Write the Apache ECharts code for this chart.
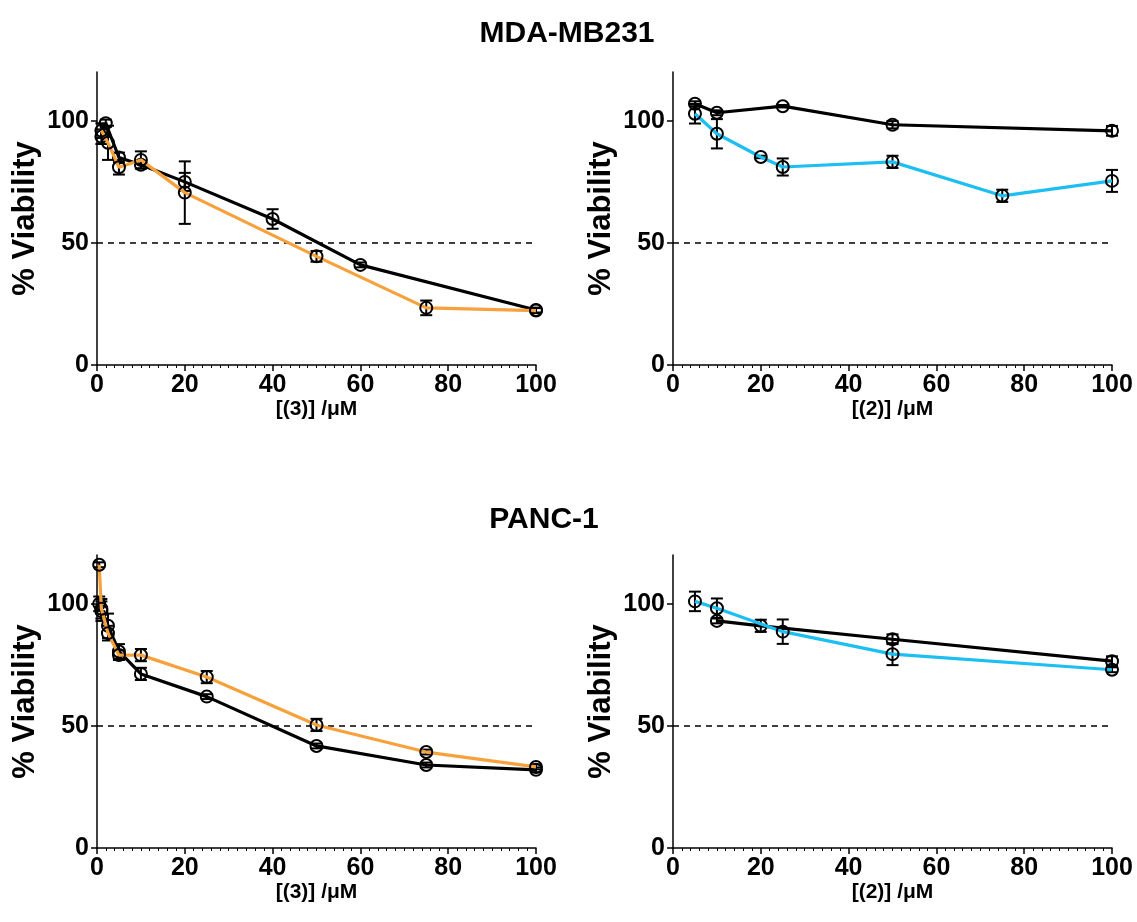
<!DOCTYPE html>
<html><head><meta charset="utf-8">
<script src="https://cdn.jsdelivr.net/npm/echarts@6/dist/echarts.min.js"></script>
<style>html,body{margin:0;padding:0;background:#fff}#c{width:1137px;height:922px}</style>
</head><body><div id="c"></div>
<script>
// ---- Data ----
const titles = ['MDA-MB231', 'PANC-1'];
const xNames = ['[(3)] /\u03bcM', '[(2)] /\u03bcM', '[(3)] /\u03bcM', '[(2)] /\u03bcM'];
const yName = '% Viability';
const yTicks = [0, 50, 100];
const xTicks = [0, 20, 40, 60, 80, 100];

// Top-left: MDA-MB231, compound (3)
const tlBlackX = [1, 2, 5, 10, 20, 40, 60, 100];
const tlBlackY = [93.5, 99, 85, 82, 75, 59.8, 41, 22.5];
const tlBlackE = [3, 1.5, 2, 1.5, 3.7, 4, 1, 1];
const tlOrangeX = [1, 2.5, 5, 10, 20, 50, 75, 100];
const tlOrangeY = [96, 91, 81, 84, 70.6, 44.5, 23.4, 22.3];
const tlOrangeE = [3, 7, 3, 3.5, 12.8, 2.2, 3, 1];

// Top-right: MDA-MB231, compound (2)
const trBlackX = [5, 10, 25, 50, 100];
const trBlackY = [107, 103.3, 106, 98.4, 95.9];
const trBlackE = [1, 1, 0.5, 1.5, 2];
const trBlueX = [5, 10, 20, 25, 50, 75, 100];
const trBlueY = [102.9, 94.7, 85.2, 81.1, 83.2, 69.3, 75.4];
const trBlueE = [4, 6, 0.5, 3.5, 2.5, 2.5, 4.5];

// Bottom-left: PANC-1, compound (3)
const blBlackX = [0.5, 1, 2.5, 5, 10, 25, 50, 75, 100];
const blBlackY = [100, 97, 91, 80.5, 71.3, 62, 41.8, 34, 32];
const blBlackE = [3, 4, 5, 3, 2.5, 1, 1, 1, 1];
const blOrangeX = [0.5, 1, 2.5, 5, 10, 25, 50, 75, 100];
const blOrangeY = [116, 98, 88, 79, 79, 70, 50.4, 39.3, 33.2];
const blOrangeE = [1, 4, 3, 2, 2.5, 2.5, 2.5, 1, 1];

// Bottom-right: PANC-1, compound (2)
const brBlackX = [10, 20, 50, 100];
const brBlackY = [93, 91, 85.5, 76.5];
const brBlackE = [1, 2.5, 2, 2];
const brBlueX = [5, 10, 25, 50, 100];
const brBlueY = [101, 98.2, 88.6, 79.4, 73];
const brBlueE = [4, 4, 5, 4.5, 1];

const BLACK = '#000000', ORANGE = '#F7A13C', BLUE = '#1DBFF2';
const FONT = 'Liberation Sans, Arial, sans-serif';

const panels = [
  {grid: {left: 97, top: 72, width: 439, height: 293}, s: [[tlBlackX, tlBlackY, tlBlackE, BLACK], [tlOrangeX, tlOrangeY, tlOrangeE, ORANGE]]},
  {grid: {left: 673, top: 72, width: 439, height: 293}, s: [[trBlackX, trBlackY, trBlackE, BLACK], [trBlueX, trBlueY, trBlueE, BLUE]]},
  {grid: {left: 97, top: 555, width: 439, height: 293}, s: [[blBlackX, blBlackY, blBlackE, BLACK], [blOrangeX, blOrangeY, blOrangeE, ORANGE]]},
  {grid: {left: 673, top: 555, width: 439, height: 293}, s: [[brBlackX, brBlackY, brBlackE, BLACK], [brBlueX, brBlueY, brBlueE, BLUE]]}
];

const grids = [], xAxes = [], yAxes = [], series = [];
panels.forEach((p, i) => {
  grids.push(p.grid);
  xAxes.push({
    type: 'value', gridIndex: i, min: 0, max: 100, interval: 20,
    name: xNames[i], nameLocation: 'middle', nameGap: 34,
    nameTextStyle: {fontFamily: FONT, fontWeight: 'bold', fontSize: 21, color: '#000'},
    axisLine: {show: true, onZero: false, lineStyle: {color: '#000', width: 1.5}},
    axisTick: {show: true, length: 6, lineStyle: {color: '#000', width: 1.5}},
    minorTick: {show: true, splitNumber: 10, length: 3, lineStyle: {color: '#000', width: 1}},
    axisLabel: {fontFamily: FONT, fontWeight: 'bold', fontSize: 25, color: '#000', margin: 8},
    splitLine: {show: false}, minorSplitLine: {show: false}
  });
  yAxes.push({
    type: 'value', gridIndex: i, min: 0, max: 120, interval: 50,
    name: yName, nameLocation: 'middle', nameGap: 56, nameRotate: 90,
    nameTextStyle: {fontFamily: FONT, fontWeight: 'bold', fontSize: 31, color: '#000'},
    axisLine: {show: true, onZero: false, lineStyle: {color: '#000', width: 1.5}},
    axisTick: {show: true, length: 6, customValues: yTicks, lineStyle: {color: '#000', width: 1.5}},
    axisLabel: {customValues: yTicks, fontFamily: FONT, fontWeight: 'bold', fontSize: 25, color: '#000', margin: 8},
    splitLine: {show: false}
  });
  p.s.forEach((d, k) => {
    const [xs, ys, es, col] = d;
    const pts = xs.map((x, j) => [x, ys[j], es[j]]);
    // error bars
    series.push({
      type: 'custom', xAxisIndex: i, yAxisIndex: i, z: 3 + k * 3,
      data: pts, silent: true,
      renderItem: (params, api) => {
        const x = api.value(0), y = api.value(1), e = api.value(2);
        const top = api.coord([x, y + e]);
        const bot = api.coord([x, y - e]);
        const hw = 6;
        const st = {stroke: '#000', lineWidth: 2};
        return {type: 'group', children: [
          {type: 'line', shape: {x1: top[0], y1: top[1], x2: bot[0], y2: bot[1]}, style: st},
          {type: 'line', shape: {x1: top[0] - hw, y1: top[1], x2: top[0] + hw, y2: top[1]}, style: st},
          {type: 'line', shape: {x1: bot[0] - hw, y1: bot[1], x2: bot[0] + hw, y2: bot[1]}, style: st}
        ]};
      }
    });
    series.push({
      type: 'line', xAxisIndex: i, yAxisIndex: i, z: 4 + k * 3,
      data: pts.map(q => [q[0], q[1]]),
      symbol: 'circle', symbolSize: 12, showAllSymbol: true,
      lineStyle: {color: col, width: 3.2},
      itemStyle: {color: 'rgba(255,255,255,0)', borderColor: '#000', borderWidth: 2},
      emphasis: {disabled: true}, animation: false,
      markLine: k === 0 ? {
        silent: true, symbol: 'none', label: {show: false},
        lineStyle: {color: '#000', type: [6, 5], width: 1.5},
        data: [{yAxis: 50}]
      } : undefined
    });
  });
});

const chart = echarts.init(document.getElementById('c'), null, {renderer: 'canvas'});
chart.setOption({
  animation: false,
  backgroundColor: '#fff',
  title: [
    {text: titles[0], left: 562, textAlign: 'center', top: 14, textStyle: {fontFamily: FONT, fontWeight: 'bold', fontSize: 30, color: '#000'}},
    {text: titles[1], left: 539, textAlign: 'center', top: 500, textStyle: {fontFamily: FONT, fontWeight: 'bold', fontSize: 30, color: '#000'}}
  ],
  grid: grids, xAxis: xAxes, yAxis: yAxes, series: series
});
</script></body></html>
